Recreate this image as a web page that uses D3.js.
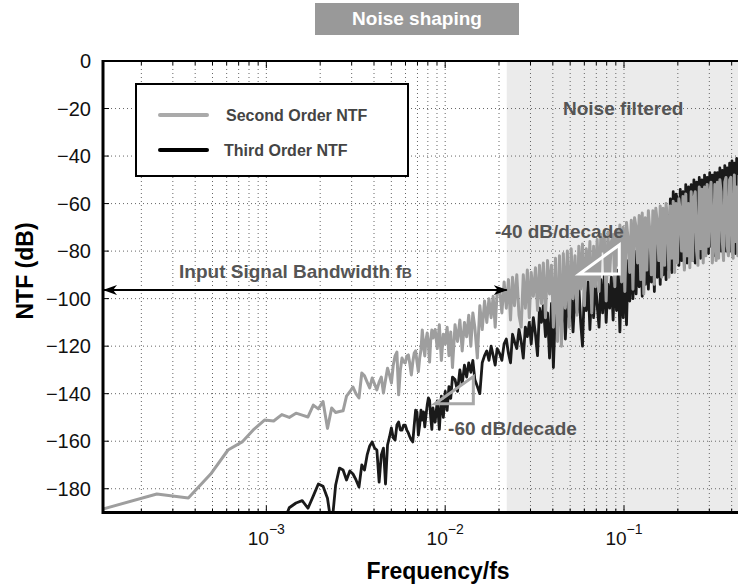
<!DOCTYPE html>
<html>
<head>
<meta charset="utf-8">
<script src="https://cdn.jsdelivr.net/npm/d3@7"></script>
<style>
body { margin: 0; background: #fff; }
svg { display: block; font-family: "Liberation Sans", Arial, sans-serif; }
</style>
</head>
<body>
<script>
// FFT length, frequency of a bin = k / FFT_N
var FFT_N = 8192;

var bins = [
  1,2,3,4,5,6,7,8,9,10,
  11,12,13,14,15,16,17,18,19,20,
  21,22,23,24,25,26,27,28,29,30,
  31,32,33,34,35,36,37,38,39,40,
  41,42,43,44,45,46,47,48,49,50,
  51,52,53,54,55,56,57,58,59,60,
  61,62,63,64,65,66,67,68,69,70,
  72,74,76,78,80,82,84,86,88,90,
  93,96,99,102,105,108,111,114,117,120,
  124,128,132,136,140,144,148,152,156,160,
  165,170,175,180,185,190,195,200,206,212,
  218,224,230,236,242,248,255,262,269,276,
  283,290,298,306,314,322,330,339,348,357,
  366,375,385,395,405,415,425,436,447,458,
  469,480,492,504,516,528,541,554,567,580,
  594,608,622,636,651,666,681,696,712,728,
  744,760,777,794,811,828,846,864,882,900,
  919,938,957,976,996,1016,1036,1057,1078,1099,
  1121,1143,1165,1188,1211,1234,1258,1282,1306,1331,
  1356,1382,1408,1434,1461,1488,1516,1544,1572,1601,
  1630,1660,1690,1720,1751,1782,1814,1846,1879,1912,
  1946,1980,2015,2050,2086,2122,2159,2196,2234,2272,
  2311,2350,2390,2430,2471,2512,2554,2596,2639,2682,
  2726,2770,2815,2860,2906,2952,2999,3046,3094,3142,
  3191,3240,3290,3340,3391,3442,3494,3546,3599
];

// second order NTF (dB)
var ntfSecond = [
  -188.5,-182.2,-183.9,-173.8,-163.7,-160.3,-154.9,-151.1,-151.5,-148.8,
  -150.0,-148.2,-149.0,-149.8,-144.8,-146.4,-143.3,-154.6,-146.0,-147.9,
  -147.5,-147.2,-141.0,-139.2,-137.2,-140.1,-141.8,-131.3,-132.5,-135.1,
  -137.6,-133.4,-135.9,-138.4,-135.1,-133.0,-139.7,-134.2,-129.3,-132.1,
  -135.5,-127.9,-124.1,-122.5,-140.5,-130.0,-125.0,-126.7,-127.1,-124.1,
  -123.7,-127.5,-132.1,-126.7,-122.9,-122.0,-126.7,-130.7,-125.0,-121.6,
  -113.2,-119.5,-124.1,-117.4,-114.5,-119.5,-126.7,-117.4,-113.2,-116.6,
  -113,-121,-111,-126,-115,-119,-112,-124,-114,-129,
  -111,-118,-109,-122,-110,-116,-107,-120,-106,-112,
  -125,-103,-113,-101,-110,-100,-108,-99,-112,-97,
  -96,-106,-93,-104,-92,-109,-91,-103,-90,-107,
  -112,-90,-104,-88,-108,-89,-99,-87,-105,-86,
  -102,-85,-108,-84,-98,-86,-112,-83,-118,-82,
  -120,-81,-104,-80,-112,-79,-100,-82,-107,-78,
  -96,-77,-103,-79,-92,-76,-106,-78,-95,-75,
  -97,-73,-80,-74,-101,-72,-90,-76,-73,-95,
  -71,-86,-69,-93,-70,-97,-68,-75,-89,-67,
  -96,-66,-70,-85,-65,-92,-64,-98,-66,-88,
  -63,-72,-90,-63,-94,-62,-68,-84,-61,-91,
  -62,-86,-60,-66,-91,-61,-83,-59,-89,-60,
  -85,-58,-63,-80,-57,-88,-56,-82,-60,-87,
  -55,-84,-58,-55,-80,-86,-53,-79,-54,-85,
  -53,-82,-52,-78,-56,-51,-85,-76,-52,-84,
  -51,-83,-50,-55,-76,-84,-51,-49,-78,-82,
  -50,-49,-80,-83,-48,-76,-53,-82,-48
];

// third order NTF (dB)
var ntfThird = [
  -205,-200,-210,-200,-205,-198,-207,-200,-203,-196,
  -188.0,-186.0,-185.0,-188.2,-183.0,-178.0,-179.0,-184.0,-196.0,-178.4,
  -171.3,-172.1,-176.3,-172.5,-173.8,-176.3,-179.3,-170.0,-172.1,-165.8,
  -162.0,-160.3,-162.9,-163.7,-177.2,-165.8,-162.9,-178.0,-161.6,-158.2,
  -154.4,-158.6,-159.5,-153.2,-151.9,-155.3,-155.3,-153.2,-153.2,-155.3,
  -156.5,-158.2,-159.5,-160.3,-153.2,-146.9,-147.7,-157.4,-153.2,-146.9,
  -151.1,-147.7,-154.0,-149.0,-144.8,-141.8,-142.7,-150.0,-155.0,-146.0,
  -152,-143,-155,-141,-150,-139,-147,-137,-142,-133,
  -134,-139,-130,-136,-128,-133,-127,-131,-126,-134,
  -137,-140,-127,-124,-122,-126,-120,-124,-128,-121,
  -123,-126,-119,-117,-123,-127,-115,-118,-121,-113,
  -118,-125,-112,-116,-110,-119,-108,-115,-124,-104,
  -110,-103,-116,-106,-125,-102,-129,-104,-113,-100,
  -112,-97,-117,-99,-108,-96,-114,-98,-106,-95,
  -110,-120,-96,-105,-93,-113,-95,-108,-92,-103,
  -112,-92,-106,-90,-110,-94,-104,-91,-109,-89,
  -105,-88,-114,-87,-108,-86,-111,-84,-101,-80,
  -100,-80,-98,-78,-95,-77,-99,-75,-94,-74,
  -96,-74,-93,-72,-97,-71,-91,-70,-94,-69,
  -90,-68,-92,-65,-88,-58,-89,-55,-87,-56,
  -58,-86,-54,-84,-55,-87,-52,-85,-53,-83,
  -52,-84,-50,-85,-51,-82,-49,-83,-50,-80,
  -48,-79,-49,-81,-47,-78,-48,-82,-47,-80,
  -47,-81,-45,-80,-46,-82,-44,-80,-45,-81,
  -43,-80,-42,-79,-43,-81,-41,-80,-42
];

var yTicks = [0, -20, -40, -60, -80, -100, -120, -140, -160, -180];
var decades = [1e-3, 1e-2, 1e-1];
var bandEdge = 0.0221;          // end of input signal band (fB)
var arrowLevel = -96.4;
var slope40 = [[0.05625, -89.6], [0.0941, -77.4], [0.0941, -89.6]];
var slope60 = [[0.00878, -144.2], [0.01437, -132.8], [0.01437, -144.2]];

var W = 738, H = 587;
var pL = 103, pT = 61, pR = 749, pB = 512.5;

var x = d3.scaleLog().domain([1 / FFT_N, 0.5]).range([pL, pR]);
var y = d3.scaleLinear().domain([-190, 0]).range([pB, pT]);

var svg = d3.select('body').append('svg')
        .attr('width', W)
        .attr('height', H);

var defs = svg.append('defs');
defs.append('clipPath').attr('id', 'plotclip')
        .append('rect')
        .attr('x', pL).attr('y', pT)
        .attr('width', pR - pL).attr('height', pB - pT);
defs.append('marker')
        .attr('id', 'ahead')
        .attr('viewBox', '0 0 14 10')
        .attr('refX', 13).attr('refY', 5)
        .attr('markerWidth', 14).attr('markerHeight', 10)
        .attr('markerUnits', 'userSpaceOnUse')
        .attr('orient', 'auto-start-reverse')
        .append('path')
        .attr('d', 'M0,0 L14,5 L0,10 L4,5 Z')
        .style('fill', '#000');

// title box
svg.append('rect')
        .attr('x', 315).attr('y', 3)
        .attr('width', 204).attr('height', 32)
        .style('fill', '#999');
svg.append('text')
        .attr('x', 417).attr('y', 25)
        .attr('text-anchor', 'middle')
        .style('font-size', '19px').style('font-weight', 'bold')
        .style('fill', '#fff')
        .text('Noise shaping');

// shaded out-of-band region
svg.append('rect')
        .attr('x', x(bandEdge)).attr('y', pT)
        .attr('width', pR - x(bandEdge)).attr('height', pB - pT)
        .style('fill', '#ebebeb');

// dotted grid
var grid = svg.append('g');
grid.selectAll('line.vg').data(x.ticks()).enter().append('line')
        .attr('x1', function(d) { return x(d); })
        .attr('x2', function(d) { return x(d); })
        .attr('y1', pT).attr('y2', pB)
        .attr('stroke', '#666').attr('stroke-width', 1)
        .attr('stroke-dasharray', '1,3');
grid.selectAll('line.hg').data(yTicks.slice(1)).enter().append('line')
        .attr('x1', pL).attr('x2', pR)
        .attr('y1', function(d) { return y(d); })
        .attr('y2', function(d) { return y(d); })
        .attr('stroke', '#666').attr('stroke-width', 1)
        .attr('stroke-dasharray', '1,3');

// series
var n = Math.min(bins.length, ntfSecond.length, ntfThird.length);
var pts2 = [], pts3 = [];
for (var i = 0; i < n; i++) {
    pts2.push([bins[i] / FFT_N, ntfSecond[i]]);
    pts3.push([bins[i] / FFT_N, ntfThird[i]]);
}
var line = d3.line()
        .x(function(d) { return x(d[0]); })
        .y(function(d) { return y(d[1]); });

var plot = svg.append('g').attr('clip-path', 'url(#plotclip)');
plot.append('path').datum(pts3)
        .attr('d', line)
        .style('fill', 'none').style('stroke', '#1a1a1a')
        .style('stroke-width', 2.8).style('stroke-linejoin', 'round');
plot.append('path').datum(pts2)
        .attr('d', line)
        .style('fill', 'none').style('stroke', '#9e9e9e')
        .style('stroke-width', 3).style('stroke-linejoin', 'round');

// slope triangles
var tri = d3.line()
        .x(function(d) { return x(d[0]); })
        .y(function(d) { return y(d[1]); })
        .curve(d3.curveLinearClosed);
svg.append('path').datum(slope40)
        .attr('d', tri)
        .style('fill', 'none').style('stroke', '#fff').style('stroke-width', 3);
svg.append('path').datum(slope60)
        .attr('d', tri)
        .style('fill', 'none').style('stroke', '#a8a8a8').style('stroke-width', 3);

// bandwidth arrow
svg.append('line')
        .attr('x1', x(1 / FFT_N) + 1).attr('x2', x(bandEdge))
        .attr('y1', y(arrowLevel)).attr('y2', y(arrowLevel))
        .style('stroke', '#000').style('stroke-width', 2)
        .attr('marker-start', 'url(#ahead)')
        .attr('marker-end', 'url(#ahead)');

var note = svg.append('g')
        .style('font-size', '19px').style('font-weight', 'bold')
        .style('fill', '#555');
var bw = note.append('text')
        .attr('x', x(3.25e-4)).attr('y', y(-91.3));
bw.append('tspan').text('Input Signal Bandwidth f');
bw.append('tspan').style('font-size', '14px').text('B');
note.append('text')
        .attr('x', x(0.019)).attr('y', y(-74.5))
        .text('-40 dB/decade');
note.append('text')
        .attr('x', x(0.01038)).attr('y', y(-157.4))
        .text('-60 dB/decade');
note.append('text')
        .attr('x', x(0.0456)).attr('y', y(-22.7))
        .text('Noise filtered');

// legend
var lg = svg.append('g');
lg.append('rect')
        .attr('x', 136).attr('y', 84)
        .attr('width', 272).attr('height', 92)
        .style('fill', '#fff').style('stroke', '#000').style('stroke-width', 2);
var legendItems = [
    {name: 'Second Order NTF', color: '#aaaaaa', ly: 115, tx: 226},
    {name: 'Third Order NTF', color: '#000', ly: 150, tx: 224}
];
legendItems.forEach(function(it) {
    lg.append('line')
            .attr('x1', 160).attr('x2', 207)
            .attr('y1', it.ly).attr('y2', it.ly)
            .style('stroke', it.color).style('stroke-width', 4)
            .style('stroke-linecap', 'round');
    lg.append('text')
            .attr('x', it.tx).attr('y', it.ly + 6)
            .style('font-size', '16px').style('font-weight', 'bold')
            .style('fill', '#444')
            .text(it.name);
});

// frame and ticks
var ax = svg.append('g').style('stroke', '#000');
ax.append('line').attr('x1', pL).attr('x2', W).attr('y1', pT).attr('y2', pT).style('stroke-width', 2);
ax.append('line').attr('x1', pL).attr('x2', W).attr('y1', pB).attr('y2', pB).style('stroke-width', 3);
ax.append('line').attr('x1', pL).attr('x2', pL).attr('y1', pT - 1).attr('y2', pB + 1.5).style('stroke-width', 3);

x.ticks().forEach(function(t) {
    var major = decades.indexOf(t) >= 0;
    var len = major ? 7 : 4;
    ax.append('line').attr('x1', x(t)).attr('x2', x(t))
            .attr('y1', pT).attr('y2', pT + len).style('stroke-width', 1);
    ax.append('line').attr('x1', x(t)).attr('x2', x(t))
            .attr('y1', pB).attr('y2', pB - len).style('stroke-width', 1);
});
yTicks.forEach(function(t) {
    ax.append('line').attr('x1', pL).attr('x2', pL + 6)
            .attr('y1', y(t)).attr('y2', y(t)).style('stroke-width', 1);
});

svg.selectAll('text.ylab').data(yTicks).enter().append('text')
        .attr('x', 91).attr('y', function(d) { return y(d) + 7; })
        .attr('text-anchor', 'end')
        .style('font-size', '20px').style('fill', '#111')
        .text(function(d) { return d3.format('d')(d); });

svg.selectAll('text.xlab').data(decades).enter().append('text')
        .attr('x', function(d) { return x(d); }).attr('y', 545)
        .attr('text-anchor', 'middle')
        .style('font-size', '19px').style('fill', '#111')
        .each(function(d) {
            var t = d3.select(this);
            t.append('tspan').text('10');
            t.append('tspan').attr('dy', -11).style('font-size', '14px')
                    .text('\u2212' + Math.round(-Math.log10(d)));
        });

svg.append('text')
        .attr('transform', 'translate(33,271) rotate(-90)')
        .attr('text-anchor', 'middle')
        .style('font-size', '23px').style('font-weight', 'bold')
        .text('NTF (dB)');
svg.append('text')
        .attr('x', 438).attr('y', 579)
        .attr('text-anchor', 'middle')
        .style('font-size', '23px').style('font-weight', 'bold')
        .text('Frequency/fs');
</script>
</body>
</html>
